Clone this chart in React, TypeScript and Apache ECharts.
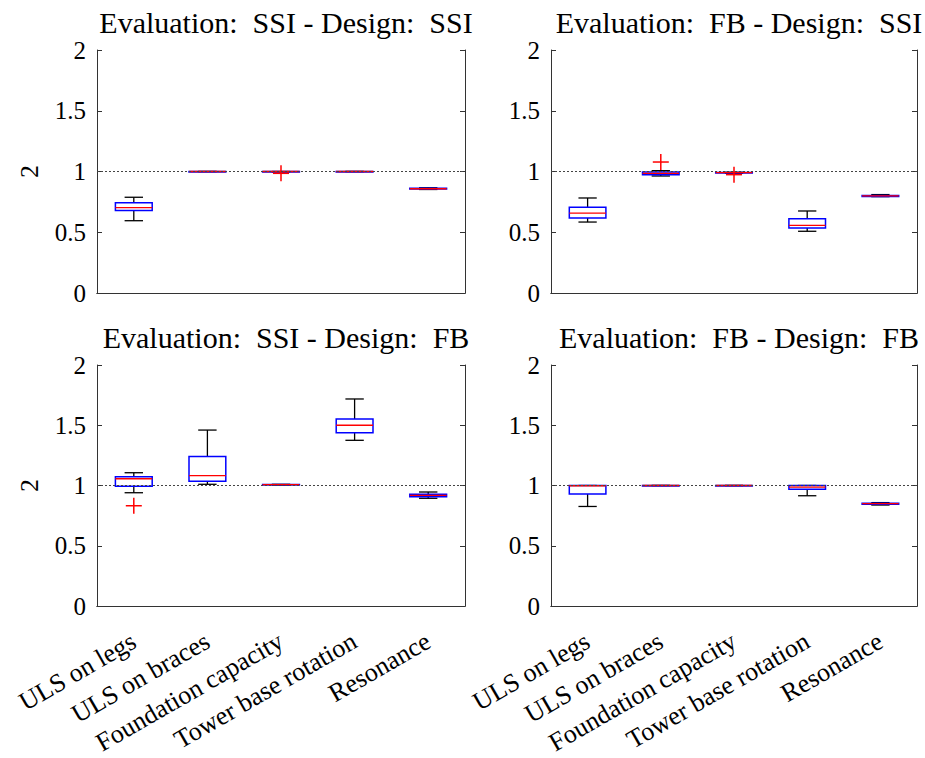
import React, { useEffect, useRef } from "react";
import * as echarts from "echarts";

const categories = ["ULS on legs", "ULS on braces", "Foundation capacity", "Tower base rotation", "Resonance"];

// [min, q1, median, q3, max] per category
const boxesSsiSsi = [
  [0.595, 0.68, 0.702, 0.743, 0.788],
  [1, 1, 1, 1, 1],
  [0.997, 0.998, 1, 1, 1],
  [1, 1, 1, 1, 1],
  [0.852, 0.855, 0.858, 0.862, 0.866],
];
const outliersSsiSsi = [[2, 0.985]];

const boxesFbSsi = [
  [0.584, 0.617, 0.658, 0.705, 0.782],
  [0.963, 0.974, 0.985, 0.996, 1.007],
  [0.985, 0.987, 0.99, 0.992, 0.994],
  [0.508, 0.535, 0.557, 0.612, 0.675],
  [0.793, 0.795, 0.8, 0.803, 0.81],
];
const outliersFbSsi = [[1, 1.078], [2, 0.974]];

const boxesSsiFb = [
  [0.94, 0.993, 1.056, 1.073, 1.106],
  [1.01, 1.035, 1.082, 1.24, 1.46],
  [1.003, 1.005, 1.007, 1.008, 1.01],
  [1.375, 1.438, 1.5, 1.552, 1.718],
  [0.894, 0.907, 0.918, 0.927, 0.946],
];
const outliersSsiFb = [[0, 0.832]];

const boxesFbFb = [
  [0.826, 0.93, 0.998, 1.0, 1.0],
  [1, 1, 1, 1, 1],
  [1, 1, 1, 1, 1],
  [0.915, 0.968, 0.987, 1.0, 1.0],
  [0.838, 0.845, 0.85, 0.853, 0.858],
];
const outliersFbFb: number[][] = [];

const panelTitles = [
  "Evaluation:  SSI - Design:  SSI",
  "Evaluation:  FB - Design:  SSI",
  "Evaluation:  SSI - Design:  FB",
  "Evaluation:  FB - Design:  FB",
];
const yAxisName = "2";

const FONT = "Liberation Serif";

export default function App() {
  const ref = useRef<HTMLDivElement>(null);
  useEffect(() => {
    if (!ref.current) return;
    const chart = echarts.init(ref.current, undefined, { renderer: "svg" });
    const grids = [
      { left: 97, top: 50, width: 368, height: 243 },
      { left: 551, top: 50, width: 366, height: 243 },
      { left: 97, top: 365, width: 368, height: 241 },
      { left: 551, top: 365, width: 366, height: 241 },
    ];
    const boxSets = [boxesSsiSsi, boxesFbSsi, boxesSsiFb, boxesFbFb];
    const outSets = [outliersSsiSsi, outliersFbSsi, outliersSsiFb, outliersFbFb];
    const axisLine = { show: true, lineStyle: { color: "#333", width: 1 } };
    const xAxes: any[] = [];
    const yAxes: any[] = [];
    const series: any[] = [];
    const titles: any[] = [];
    grids.forEach((g, i) => {
      const showX = i >= 2;
      const showY = i % 2 === 0;
      xAxes.push({
        type: "category", gridIndex: i, data: categories, position: "bottom",
        axisLine, axisTick: { inside: true, alignWithLabel: true, length: 5, lineStyle: { color: "#333" } },
        axisLabel: {
          show: showX, rotate: 30, margin: 33, color: "#000", fontFamily: FONT, fontSize: 26, interval: 0,
        },
        splitLine: { show: false },
      });
      xAxes.push({
        type: "category", gridIndex: i, data: categories, position: "top",
        axisLine, axisTick: { inside: true, alignWithLabel: true, length: 5, lineStyle: { color: "#333" } },
        axisLabel: { show: false }, splitLine: { show: false },
      });
      yAxes.push({
        type: "value", gridIndex: i, min: 0, max: 2, interval: 0.5, position: "left",
        axisLine, axisTick: { show: true, inside: true, length: 5, lineStyle: { color: "#333" } },
        axisLabel: { color: "#000", fontFamily: FONT, fontSize: 25, margin: 11 },
        splitLine: { show: false },
        name: showY ? yAxisName : "", nameLocation: "middle", nameGap: 55, nameRotate: 90,
        nameTextStyle: { color: "#000", fontFamily: FONT, fontSize: 26 },
      });
      yAxes.push({
        type: "value", gridIndex: i, min: 0, max: 2, interval: 0.5, position: "right",
        axisLine, axisTick: { show: true, inside: true, length: 5, lineStyle: { color: "#333" } },
        axisLabel: { show: false }, splitLine: { show: false },
      });
      titles.push({
        text: panelTitles[i], left: g.left + g.width / 2, textAlign: "center",
        top: i < 2 ? 2 : 317,
        textStyle: { color: "#000", fontFamily: FONT, fontSize: 30, fontWeight: "normal" },
      });
      const boxes = boxSets[i];
      series.push({
        type: "custom", xAxisIndex: 2 * i, yAxisIndex: 2 * i,
        data: boxes.map((b, k) => [k, ...b]),
        renderItem: (params: any, api: any) => {
          const k = api.value(0);
          const band = api.size([1, 0])[0];
          const pMin = api.coord([k, api.value(1)]);
          const pQ1 = api.coord([k, api.value(2)]);
          const pMed = api.coord([k, api.value(3)]);
          const pQ3 = api.coord([k, api.value(4)]);
          const pMax = api.coord([k, api.value(5)]);
          const x = pMed[0];
          const hw = band * 0.25;
          const cw = band * 0.125;
          const black = { stroke: "#000", lineWidth: 1.3 };
          return {
            type: "group",
            children: [
              { type: "line", shape: { x1: x, y1: pMax[1], x2: x, y2: pQ3[1] }, style: black },
              { type: "line", shape: { x1: x, y1: pQ1[1], x2: x, y2: pMin[1] }, style: black },
              { type: "line", shape: { x1: x - cw, y1: pMax[1], x2: x + cw, y2: pMax[1] }, style: black },
              { type: "line", shape: { x1: x - cw, y1: pMin[1], x2: x + cw, y2: pMin[1] }, style: black },
              {
                type: "rect",
                shape: { x: x - hw, y: pQ3[1], width: 2 * hw, height: Math.max(pQ1[1] - pQ3[1], 0.5) },
                style: { fill: "#fff", stroke: "#0000ff", lineWidth: 1.5 },
              },
              { type: "line", shape: { x1: x - hw, y1: pMed[1], x2: x + hw, y2: pMed[1] }, style: { stroke: "#ff0000", lineWidth: 1.3 } },
            ],
          };
        },
        markLine: {
          silent: true, symbol: "none", label: { show: false },
          lineStyle: { type: [2, 2], color: "#444", width: 1 },
          data: [{ yAxis: 1 }],
        },
        z: 2,
      });
      series.push({
        type: "custom", xAxisIndex: 2 * i, yAxisIndex: 2 * i,
        data: outSets[i],
        renderItem: (params: any, api: any) => {
          const p = api.coord([api.value(0), api.value(1)]);
          const s = 8;
          const st = { stroke: "#ff0000", lineWidth: 1.5 };
          return {
            type: "group",
            children: [
              { type: "line", shape: { x1: p[0] - s, y1: p[1], x2: p[0] + s, y2: p[1] }, style: st },
              { type: "line", shape: { x1: p[0], y1: p[1] - s, x2: p[0], y2: p[1] + s }, style: st },
            ],
          };
        },
        z: 3,
      });
    });
    chart.setOption({
      animation: false,
      backgroundColor: "#fff",
      title: titles,
      grid: grids,
      xAxis: xAxes,
      yAxis: yAxes,
      series,
    });
    return () => chart.dispose();
  }, []);
  return <div ref={ref} style={{ position: "fixed", left: 0, top: 0, width: 925, height: 758 }} />;
}
